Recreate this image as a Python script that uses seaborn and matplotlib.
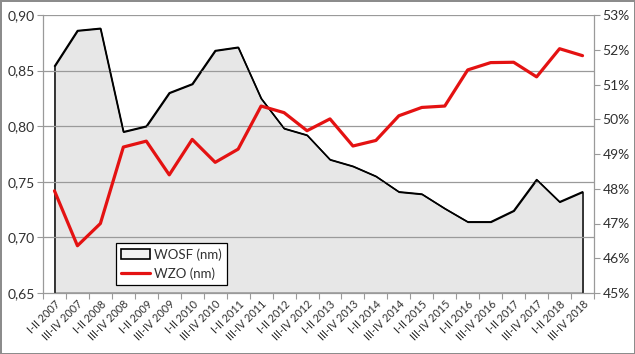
import numpy as np
import pandas as pd
import matplotlib
matplotlib.use("Agg")
import matplotlib.pyplot as plt
from matplotlib.ticker import FuncFormatter, FixedLocator
from matplotlib.lines import Line2D
from matplotlib.patches import Patch
import seaborn as sns

categories = ["I-II 2007", "III-IV 2007", "I-II 2008", "III-IV 2008", "I-II 2009", "III-IV 2009",
              "I-II 2010", "III-IV 2010", "I-II 2011", "III-IV 2011", "I-II 2012", "III-IV 2012",
              "I-II 2013", "III-IV 2013", "I-II 2014", "III-IV 2014", "I-II 2015", "III-IV 2015",
              "I-II 2016", "III-IV 2016", "I-II 2017", "III-IV 2017", "I-II 2018", "III-IV 2018"]
wosf = [0.854, 0.886, 0.888, 0.795, 0.800, 0.830, 0.838, 0.868, 0.871, 0.825, 0.798, 0.792,
        0.770, 0.764, 0.755, 0.741, 0.739, 0.726, 0.714, 0.714, 0.724, 0.752, 0.732, 0.741]
wzo = [47.94, 46.36, 47.00, 49.20, 49.37, 48.40, 49.42, 48.76, 49.14, 50.38, 50.19, 49.67,
       50.01, 49.23, 49.39, 50.10, 50.34, 50.38, 51.42, 51.63, 51.64, 51.22, 52.03, 51.83]
left_ticks = [0.65, 0.70, 0.75, 0.80, 0.85, 0.90]
right_ticks = [45, 46, 47, 48, 49, 50, 51, 52, 53]

sns.set_theme(style="white")
plt.rcParams['font.family'] = ['Lato', 'DejaVu Sans']

df = pd.DataFrame({"pos": np.arange(len(categories)), "cat": categories,
                   "wosf": wosf, "wzo": wzo})

fig = plt.figure(figsize=(6.35, 3.54), dpi=100)
fig.patch.set_facecolor("white")
fig.patch.set_edgecolor("#8c8c8c")
fig.patch.set_linewidth(2)
ax = fig.add_axes([43/635, 1-293/354, (594-43)/635, (293-15)/354])
ax2 = ax.twinx()

grid_col = "#9a9a9a"
txt_col = "#303030"
ax.fill_between(df["pos"], df["wosf"], 0.65, facecolor="#e7e7e7", edgecolor="black",
                linewidth=1.1, zorder=1)
sns.lineplot(data=df, x="pos", y="wosf", ax=ax, color="black", linewidth=1.1, zorder=3)
for t in left_ticks[1:]:
    ax.axhline(t, color=grid_col, linewidth=0.9, zorder=2)

sns.lineplot(data=df, x="pos", y="wzo", ax=ax2, color="#e41212", linewidth=2.3, zorder=4)

ax.set_xlim(-0.5, len(categories) - 0.5)
ax.set_ylim(0.65, 0.90)
ax2.set_ylim(45, 53)
ax.set_xlabel("")
ax.set_ylabel("")
ax2.set_ylabel("")

ax.set_yticks(left_ticks)
ax.yaxis.set_major_formatter(FuncFormatter(lambda v, p: f"{v:.2f}".replace(".", ",")))
ax2.set_yticks(right_ticks)
ax2.yaxis.set_major_formatter(FuncFormatter(lambda v, p: f"{v:.0f}%"))

ax.set_xticks(df["pos"])
ax.set_xticklabels(categories, rotation=45, ha="right", rotation_mode="anchor", fontsize=7.8)
ax.xaxis.set_minor_locator(FixedLocator(np.arange(-0.5, len(categories), 1.0)))
ax.tick_params(axis="x", which="major", length=0, pad=4, colors=txt_col)
ax.tick_params(axis="x", which="minor", length=4, width=0.8, color=grid_col, bottom=True)
ax.tick_params(axis="y", length=4, width=0.8, color=grid_col, labelsize=10, left=True,
               labelcolor=txt_col, pad=2)
ax2.tick_params(axis="y", length=4, width=0.8, color=grid_col, labelsize=10, right=True,
                labelcolor=txt_col, pad=2)

for a in (ax, ax2):
    a.spines["top"].set_visible(False)
    for s in ("left", "right", "bottom"):
        a.spines[s].set_color(grid_col)
        a.spines[s].set_linewidth(0.9)
ax2.spines["left"].set_visible(False)
ax2.spines["bottom"].set_visible(False)
ax.spines["right"].set_visible(False)

handles = [Patch(facecolor="#f2f2f2", edgecolor="black", linewidth=1.2, label="WOSF (nm)"),
           Line2D([], [], color="#e41212", linewidth=2.3, label="WZO (nm)")]
leg = ax2.legend(handles=handles, loc="lower left", bbox_to_anchor=(0.12, 0.005),
                 frameon=True, fancybox=False, fontsize=9.5, handlelength=2.2,
                 handletextpad=0.3, borderpad=0.4, labelspacing=0.5)
leg.get_frame().set_edgecolor("black")
leg.get_frame().set_linewidth(0.9)
leg.get_frame().set_alpha(1)
for t in leg.get_texts():
    t.set_color(txt_col)

fig.savefig("out.png", dpi=100)
